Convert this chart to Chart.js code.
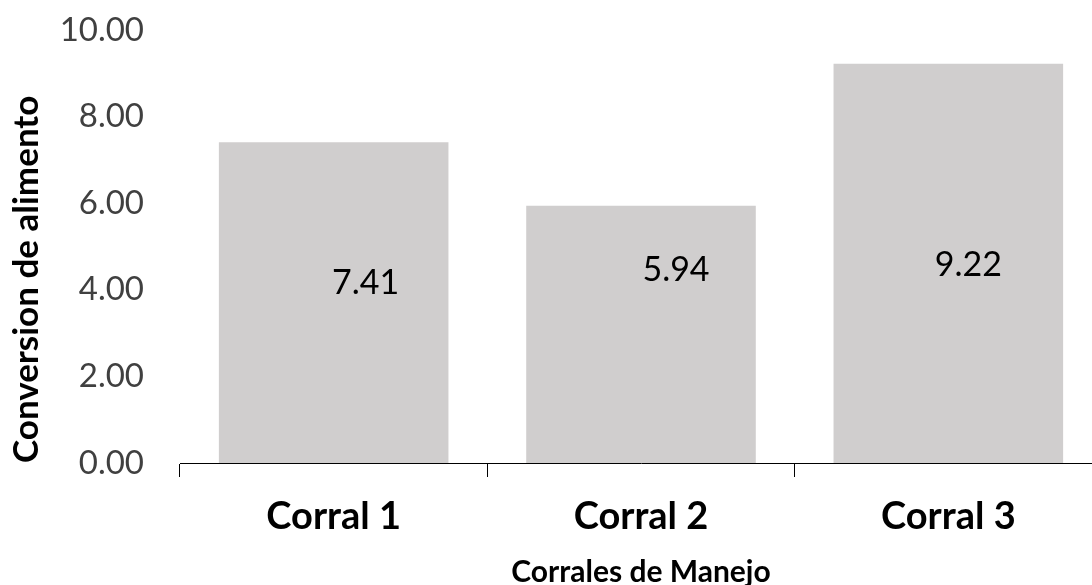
<!DOCTYPE html>
<html>
<head>
<meta charset="utf-8">
<script src="https://cdn.jsdelivr.net/npm/chart.js@4/dist/chart.umd.min.js"></script>
<style>
  html, body { margin: 0; padding: 0; background: #fff; overflow: hidden; }
  #wrap { position: relative; width: 1102px; height: 585px; }
</style>
</head>
<body>
<div id="wrap"><canvas id="c"></canvas></div>
<script>
// Feed conversion per handling pen
const categories = ['Corral 1', 'Corral 2', 'Corral 3'];
const conversion = [7.41, 5.94, 9.22];
const yTicks = [0, 2, 4, 6, 8, 10];

// Where each value label sits: horizontal shift from the bar centre (px)
// and vertical level on the value axis
const labelShiftX = [32, 35, 20];
const labelLevel = [4.16, 4.46, 4.57];

const FONT = 'Lato, "Open Sans", sans-serif';

const valueLabels = {
  id: 'valueLabels',
  afterDatasetsDraw(chart) {
    const meta = chart.getDatasetMeta(0);
    const y = chart.scales.y;
    const ctx = chart.ctx;
    ctx.save();
    ctx.font = '34px ' + FONT;
    ctx.fillStyle = '#000';
    ctx.textAlign = 'center';
    ctx.textBaseline = 'middle';
    meta.data.forEach((bar, i) => {
      ctx.fillText(conversion[i].toFixed(2), bar.x + labelShiftX[i], y.getPixelForValue(labelLevel[i]));
    });
    ctx.restore();
  }
};

new Chart(document.getElementById('c'), {
  type: 'bar',
  data: {
    labels: categories,
    datasets: [{
      data: conversion,
      backgroundColor: '#D0CECE',
      borderWidth: 0,
      categoryPercentage: 1,
      barPercentage: 0.747
    }]
  },
  options: {
    responsive: true,
    maintainAspectRatio: false,
    animation: false,
    layout: { padding: { top: 30, right: 0, bottom: 0, left: 0 } },
    plugins: {
      legend: { display: false },
      tooltip: { enabled: false }
    },
    scales: {
      x: {
        grid: {
          display: true,
          drawOnChartArea: false,
          drawTicks: true,
          tickLength: 14,
          color: '#000',
          lineWidth: 1
        },
        border: { display: true, color: '#000', width: 1 },
        ticks: {
          color: '#000',
          padding: 17,
          font: { family: FONT, size: 38, weight: 'bold', lineHeight: 1.2 }
        },
        title: {
          display: true,
          text: 'Corrales de Manejo',
          color: '#000',
          padding: { top: 0, bottom: -2 },
          font: { family: FONT, size: 30, weight: 'bold', lineHeight: 1 }
        },
        afterFit(scale) { scale.height = 122; }
      },
      y: {
        min: 0,
        max: 10,
        afterBuildTicks(scale) { scale.ticks = yTicks.map(v => ({ value: v })); },
        // no tick marks are drawn; their length only sets the label gap
        grid: { display: false, drawTicks: true, tickLength: 36 },
        border: { display: false },
        ticks: {
          color: '#404040',
          padding: 0,
          font: { family: FONT, size: 33 },
          callback: v => Number(v).toFixed(2)
        },
        title: {
          display: true,
          text: 'Conversion de alimento',
          align: 'start',
          color: '#000',
          padding: { top: 6, bottom: 0 },
          font: { family: FONT, size: 35, weight: 'bold', lineHeight: 1.2 }
        },
        afterFit(scale) { scale.width = 180; }
      }
    }
  },
  plugins: [valueLabels]
});
</script>
</body>
</html>
